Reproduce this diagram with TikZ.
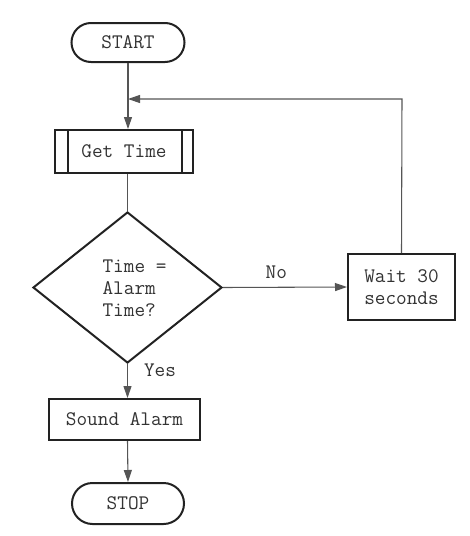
\documentclass[tikz,border=0pt]{standalone}
\usepackage{fontspec}
\usetikzlibrary{shapes.geometric,shapes.misc,arrows.meta}
\definecolor{boxline}{HTML}{222222}
\definecolor{conn}{HTML}{555555}
\definecolor{txt}{HTML}{333333}
\begin{document}
\begin{tikzpicture}[x=0.75pt,y=-0.75pt,
  every node/.style={font=\ttfamily\fontsize{15.5pt}{16.5pt}\selectfont, text=txt},
  term/.style={draw=boxline, line width=1.5pt, rounded rectangle, inner sep=0pt},
  procbox/.style={draw=boxline, line width=1.5pt, rectangle, inner sep=0pt},
  decis/.style={draw=boxline, line width=1.5pt, diamond, inner sep=0pt},
  flow/.style={draw=conn, line width=0.8pt},
  arr/.style={flow, -{Triangle[length=9pt,width=6pt]}},
  lbl/.style={inner sep=0pt}
]
\useasboundingbox (0,0) rectangle (469,536);
\fill[white] (0,0) rectangle (469,536);

\node[term, minimum width=84.75pt, minimum height=29.25pt] (start) at (128,42.5) {START};
\node[procbox, minimum width=103.5pt, minimum height=32.25pt] (get) at (124,151.5) {Get Time};
\draw[boxline, line width=1.5pt] ([xshift=10.5pt]get.north west) -- ([xshift=10.5pt]get.south west);
\draw[boxline, line width=1.5pt] ([xshift=-9pt]get.north east) -- ([xshift=-9pt]get.south east);
\node[decis, minimum width=141.75pt, minimum height=113.25pt] (dec) at (127.5,287.5) {};
\node[lbl, align=left] (dectxt) at (134.5,288.5) {Time =\\Alarm\\Time?};
\node[procbox, minimum width=80.25pt, minimum height=49.5pt, align=center] (wait) at (401.5,287) {Wait 30\\seconds};
\node[procbox, minimum width=113.25pt, minimum height=30.75pt] (sound) at (124.5,419.5) {Sound Alarm};
\node[term, minimum width=84pt, minimum height=30.75pt] (stop) at (128,503.5) {STOP};

\coordinate (corner) at (402,99);
\coordinate (join) at (128,99);

\draw[arr] (start.south) -- (start.south |- get.north);
\draw[arr] (wait.north) -- (corner) -- (join);
\draw[flow] (dec.north |- get.south) -- (dec.north);
\draw[arr] (dec.east) -- node[lbl, above=6pt, xshift=-6.5pt] (no) {No} (wait.west);
\draw[arr] (dec.south) -- (dec.south |- sound.north);
\node[lbl] (yes) at (160,370) {Yes};
\draw[arr] (dec.south |- sound.south) -- (stop.north);
\end{tikzpicture}
\end{document}
